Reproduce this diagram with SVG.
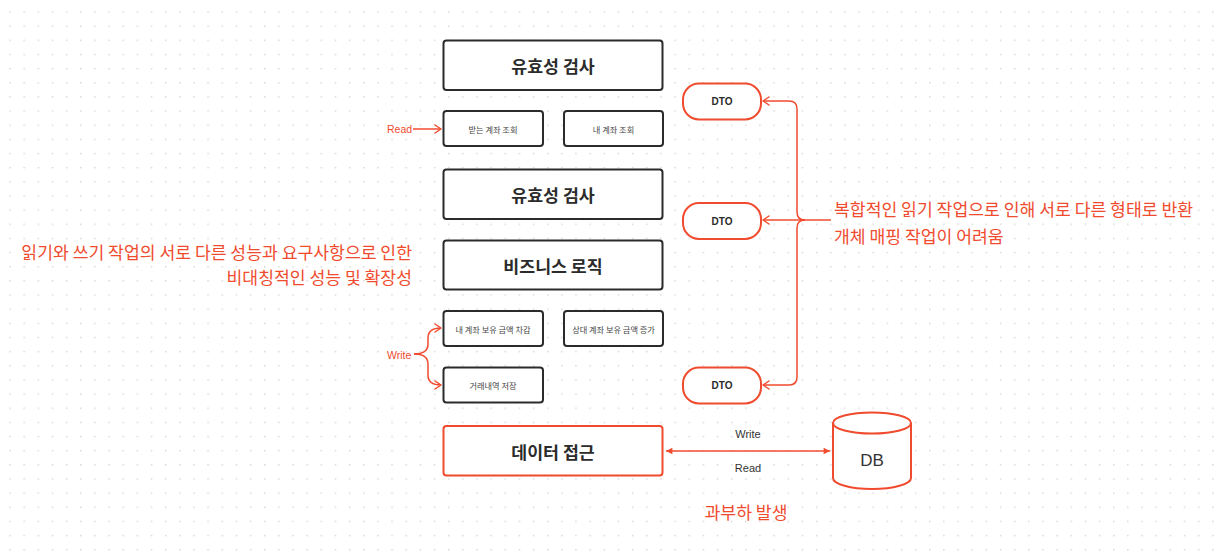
<svg xmlns="http://www.w3.org/2000/svg" width="1222" height="554" viewBox="0 0 1222 554">
<defs>
<pattern id="dots" x="9.3" y="11.3" width="14.15" height="14.15" patternUnits="userSpaceOnUse">
<rect x="0" y="0" width="1.4" height="1.4" fill="#d4d4d4"/>
</pattern>
<marker id="open" viewBox="0 0 10 10" refX="9" refY="5" markerWidth="10" markerHeight="10" markerUnits="userSpaceOnUse" orient="auto">
<path d="M3,1 L9,5 L3,9" fill="none" stroke="#F04B2E" stroke-width="1.5" stroke-linecap="round" stroke-linejoin="round"/>
</marker>
<marker id="solid" viewBox="0 0 10 10" refX="9" refY="5" markerWidth="8" markerHeight="8" markerUnits="userSpaceOnUse" orient="auto-start-reverse">
<path d="M1,1 L9,5 L1,9 Z" fill="#F04B2E"/>
</marker>
<style>
.box{fill:#fff;stroke:#2b2b2b;stroke-width:2}
.rbox{fill:#fff;stroke:#F04B2E;stroke-width:2}
.title{font-family:"Noto Sans CJK KR",sans-serif;font-size:17.3px;font-weight:700;fill:#2b2b2b;text-anchor:middle;dominant-baseline:central}
.small{font-family:"Noto Sans CJK KR",sans-serif;font-size:8.2px;fill:#444;text-anchor:middle;dominant-baseline:central}
.dto{font-family:"Liberation Sans",Arial,sans-serif;font-size:10px;font-weight:700;fill:#2b2b2b;text-anchor:middle;dominant-baseline:central}
.note{font-family:"Noto Sans CJK KR",sans-serif;font-size:17.2px;fill:#F04B2E;dominant-baseline:central}
.lbl{font-family:"Liberation Sans",Arial,sans-serif;font-size:10.5px;fill:#F04B2E;dominant-baseline:central}
.dlbl{font-family:"Liberation Sans",Arial,sans-serif;font-size:11px;fill:#333;text-anchor:middle;dominant-baseline:central}
.conn{fill:none;stroke:#F04B2E;stroke-width:1.5;stroke-linejoin:round}
</style>
</defs>
<rect width="1222" height="554" fill="#fff"/>
<rect width="1222" height="554" fill="url(#dots)"/>

<g id="connectors">
<path class="conn" d="M413,129 L441,129" marker-end="url(#open)"/>
<path class="conn" d="M414,354 Q428,354 428,344 L428,338 Q428,328 441,328" marker-end="url(#open)"/>
<path class="conn" d="M414,354 Q428,354 428,364 L428,375 Q428,385 441,385" marker-end="url(#open)"/>
<path class="conn" d="M831,220 L763,220" marker-end="url(#open)"/>
<path class="conn" d="M805,220 Q797,220 797,212 L797,109 Q797,101 789,101 L763,101" marker-end="url(#open)"/>
<path class="conn" d="M805,220 Q797,220 797,228 L797,377 Q797,385 789,385 L763,385" marker-end="url(#open)"/>
<path class="conn" d="M666,451 L830,451" marker-start="url(#solid)" marker-end="url(#solid)"/>
</g>

<g id="validate1"><rect class="box" x="443.5" y="40.5" width="219" height="49.5" rx="3"/><text class="title" x="553" y="65">유효성 검사</text></g>
<g id="recvAccount"><rect class="box" x="443.5" y="111" width="99.5" height="35" rx="3"/><text class="small" x="493" y="128.5">받는 계좌 조회</text></g>
<g id="myAccount"><rect class="box" x="564" y="111" width="99" height="35" rx="3"/><text class="small" x="613.5" y="128.5">내 계좌 조회</text></g>
<g id="validate2"><rect class="box" x="443.5" y="169.5" width="219" height="49.5" rx="3"/><text class="title" x="553" y="194">유효성 검사</text></g>
<g id="business"><rect class="box" x="443.5" y="240.5" width="219" height="49" rx="3"/><text class="title" x="553" y="265">비즈니스 로직</text></g>
<g id="decrease"><rect class="box" x="443.5" y="311" width="99.5" height="35" rx="3"/><text class="small" x="493" y="328.5">내 계좌 보유 금액 차감</text></g>
<g id="increase"><rect class="box" x="564" y="311" width="99" height="35" rx="3"/><text class="small" x="613.5" y="328.5">상대 계좌 보유 금액 증가</text></g>
<g id="history"><rect class="box" x="443.5" y="367.5" width="99.5" height="35" rx="3"/><text class="small" x="493" y="385">거래내역 저장</text></g>
<g id="dataAccess"><rect class="rbox" x="443.5" y="426" width="219" height="49.5" rx="3"/><text class="title" x="553" y="451">데이터 접근</text></g>

<g id="dto1"><rect class="rbox" x="683" y="83.5" width="78" height="36" rx="16"/><text class="dto" x="722" y="101.5">DTO</text></g>
<g id="dto2"><rect class="rbox" x="683" y="203" width="78" height="36" rx="16"/><text class="dto" x="722" y="221">DTO</text></g>
<g id="dto3"><rect class="rbox" x="683" y="367.5" width="78" height="36" rx="16"/><text class="dto" x="722" y="385.5">DTO</text></g>

<g id="db">
<path d="M833,423 L833,478 A39,11 0 0 0 911,478 L911,423" fill="#fff" stroke="#F04B2E" stroke-width="2"/>
<ellipse cx="872" cy="423" rx="39" ry="10.5" fill="#fff" stroke="#F04B2E" stroke-width="2"/>
<text x="872" y="460" font-family="Liberation Sans, Arial, sans-serif" font-size="17" fill="#333" text-anchor="middle" dominant-baseline="central">DB</text>
</g>

<g id="labels">
<text class="lbl" x="387" y="129">Read</text>
<text class="lbl" x="387" y="354.5">Write</text>
<text class="dlbl" x="748" y="434">Write</text>
<text class="dlbl" x="748" y="468">Read</text>
<text class="note" x="412" y="251.5" text-anchor="end">읽기와 쓰기 작업의 서로 다른 성능과 요구사항으로 인한</text>
<text class="note" x="412" y="276.5" text-anchor="end">비대칭적인 성능 및 확장성</text>
<text class="note" x="834" y="208.5">복합적인 읽기 작업으로 인해 서로 다른 형태로 반환</text>
<text class="note" x="834" y="235">개체 매핑 작업이 어려움</text>
<text class="note" x="746" y="511.5" text-anchor="middle">과부하 발생</text>
</g>
</svg>
